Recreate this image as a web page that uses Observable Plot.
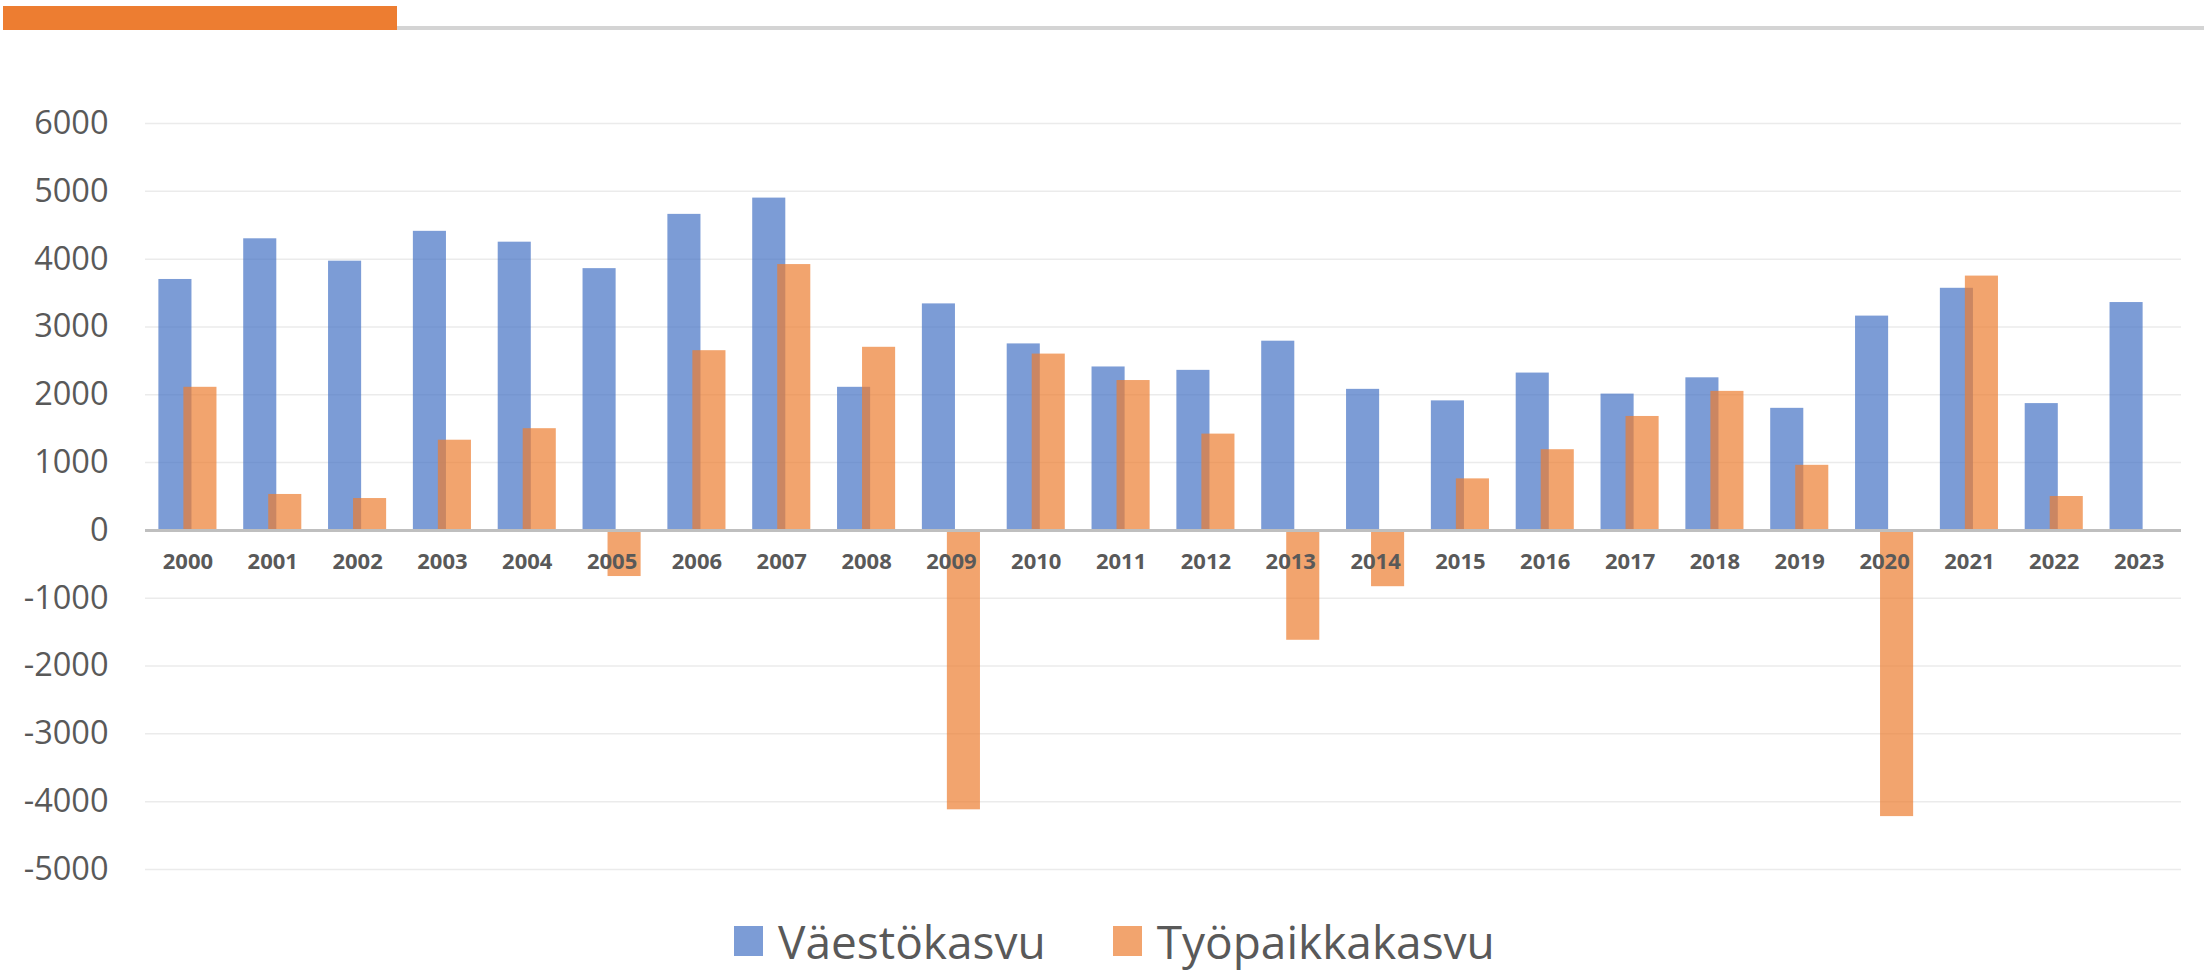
<!DOCTYPE html>
<html>
<head>
<meta charset="utf-8">
<script src="https://cdn.jsdelivr.net/npm/d3@7"></script>
<script src="https://cdn.jsdelivr.net/npm/@observablehq/plot@0.6"></script>
<style>
  html, body { margin: 0; padding: 0; background: #fff; }
  body { width: 2208px; height: 970px; position: relative; overflow: hidden; font-family: "Open Sans", sans-serif; }
  #topbar { position: absolute; left: 3px; top: 6px; width: 394px; height: 24px; background: #ED7D31; }
  #topline { position: absolute; left: 397px; top: 26px; width: 1807px; height: 4px; background: #d4d4d4; }
  #chart { position: absolute; left: 0; top: 0; }
  #legend { position: absolute; left: 734px; top: 918px; display: flex; align-items: center; color: #595959; font-size: 46px; line-height: 1; }
  .sw { width: 29px; height: 30px; display: inline-block; margin-right: 15px; }
  .item { display: flex; align-items: center; margin-right: 67px; }
</style>
</head>
<body>
<div id="topbar"></div>
<div id="topline"></div>
<div id="chart"></div>
<div id="legend"></div>
<script>
const years = ["2000","2001","2002","2003","2004","2005","2006","2007","2008","2009","2010","2011","2012","2013","2014","2015","2016","2017","2018","2019","2020","2021","2022","2023"];
const vaestokasvu = [3700, 4300, 3970, 4410, 4250, 3860, 4660, 4900, 2110, 3340, 2750, 2410, 2360, 2790, 2080, 1910, 2320, 2010, 2250, 1800, 3160, 3570, 1870, 3360];
const tyopaikkakasvu = [2110, 530, 470, 1330, 1500, -680, 2650, 3920, 2700, -4120, 2600, 2210, 1420, -1620, -830, 760, 1190, 1680, 2050, 960, -4220, 3750, 500, null];
const yTicks = [-5000, -4000, -3000, -2000, -1000, 0, 1000, 2000, 3000, 4000, 5000, 6000];
const seriesNames = ["Väestökasvu", "Työpaikkakasvu"];
const seriesColors = ["#4472C4", "#ED7D31"];

const popData = years.map((y, i) => ({year: y, value: vaestokasvu[i]}));
const jobData = years.map((y, i) => ({year: y, value: tyopaikkakasvu[i]})).filter(d => d.value != null);

const plot = Plot.plot({
  width: 2208,
  height: 900,
  marginTop: 123,
  marginBottom: 31,
  marginLeft: 145,
  marginRight: 27,
  style: {fontFamily: "Open Sans", fontSize: "32.5px", color: "#595959", background: "transparent"},
  x: {domain: years, paddingInner: 0.61, paddingOuter: 0.305, round: false, axis: null},
  y: {domain: [-5000, 6000], axis: null},
  marks: [
    Plot.gridY(yTicks.filter(t => t !== 0), {stroke: "#ebebeb", strokeOpacity: 1, strokeWidth: 1.5}),
    Plot.axisY(yTicks, {tickSize: 0, tickPadding: 37, fontSize: 32.5, fill: "#595959", label: null, tickFormat: d => String(d)}),
    Plot.barY(popData, {x: "year", y: "value", fill: seriesColors[0], fillOpacity: 0.7, dx: -12.5}),
    Plot.barY(jobData, {x: "year", y: "value", fill: seriesColors[1], fillOpacity: 0.7, dx: 12.5}),
    Plot.ruleY([0], {stroke: "#bfbfbf", strokeWidth: 3}),
    Plot.text(years, {x: d => d, y: () => 0, text: d => d, dy: 32, fontSize: 22, fontWeight: "bold", fill: "#595959"})
  ]
});
document.getElementById("chart").appendChild(plot);

const legend = document.getElementById("legend");
seriesNames.forEach((name, i) => {
  const item = document.createElement("div");
  item.className = "item";
  const sw = document.createElement("span");
  sw.className = "sw";
  sw.style.background = seriesColors[i];
  sw.style.opacity = 0.7;
  const label = document.createElement("span");
  label.textContent = name;
  item.appendChild(sw);
  item.appendChild(label);
  legend.appendChild(item);
});
</script>
</body>
</html>
